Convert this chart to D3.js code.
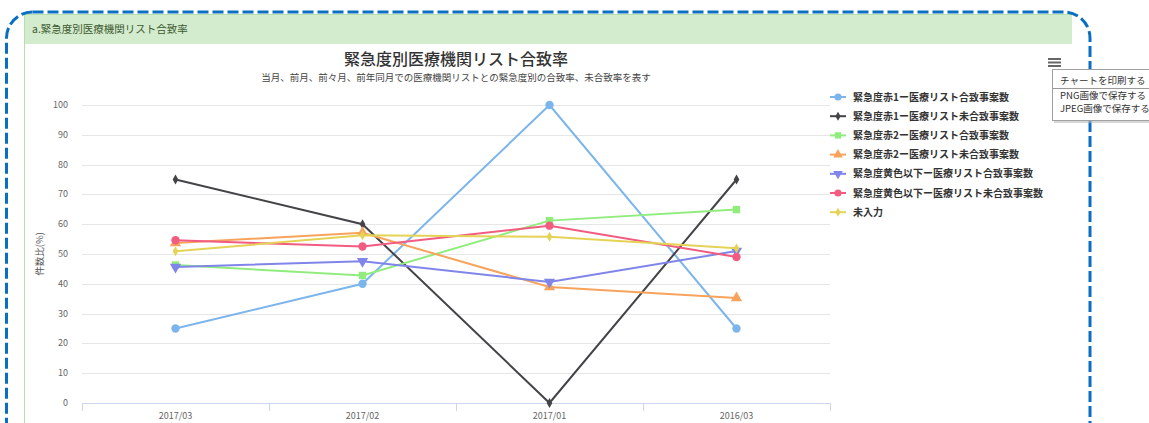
<!DOCTYPE html>
<html>
<head>
<meta charset="utf-8">
<script src="https://cdn.jsdelivr.net/npm/d3@7"></script>
<style>
  body { margin: 0; background: #fff; }
  svg { display: block; font-family: "Noto Sans CJK JP", "Noto Sans", sans-serif; }
</style>
</head>
<body>
<div id="chart"></div>
<script>
var svgWidth = 1149;
var svgHeight = 423;

// Data
var categories = ["2017/03", "2017/02", "2017/01", "2016/03"];
var seriesNames = [
    "緊急度赤1ー医療リスト合致事案数",
    "緊急度赤1ー医療リスト未合致事案数",
    "緊急度赤2ー医療リスト合致事案数",
    "緊急度赤2ー医療リスト未合致事案数",
    "緊急度黄色以下ー医療リスト合致事案数",
    "緊急度黄色以下ー医療リスト未合致事案数",
    "未入力"
];
var red1Match = [25, 40, 100, 25];
var red1Unmatch = [75, 60, 0, 75];
var red2Match = [46.3, 42.8, 61.2, 64.9];
var red2Unmatch = [53.7, 57.1, 38.9, 35.2];
var yellowMatch = [45.6, 47.6, 40.6, 51];
var yellowUnmatch = [54.6, 52.5, 59.5, 49];
var noInput = [50.9, 56.3, 55.8, 51.9];
var yTicks = [0, 10, 20, 30, 40, 50, 60, 70, 80, 90, 100];

var seriesValues = [red1Match, red1Unmatch, red2Match, red2Unmatch, yellowMatch, yellowUnmatch, noInput];
var colors = ["#7cb5ec", "#434348", "#90ed7d", "#f7a35c", "#8085e9", "#f15c80", "#e4d354"];
var symbols = [d3.symbolCircle, d3.symbolDiamond, d3.symbolSquare, d3.symbolTriangle, "down", d3.symbolCircle, d3.symbolDiamond];

var margin = { top: 105, left: 82 };
var width = 748;
var height = 298;

var svg = d3.select("#chart")
    .append("svg")
    .attr("width", svgWidth)
    .attr("height", svgHeight);

// panel header
svg.append("rect")
    .attr("x", 24).attr("y", 14)
    .attr("width", 1048).attr("height", 30)
    .attr("fill", "#d4ecce");
svg.append("line")
    .attr("x1", 24.5).attr("x2", 24.5)
    .attr("y1", 14).attr("y2", 423)
    .attr("stroke", "#b5e0ad");
svg.append("line")
    .attr("x1", 24).attr("x2", 1072)
    .attr("y1", 14.5).attr("y2", 14.5)
    .attr("stroke", "#b5e0ad");
svg.append("text")
    .attr("x", 32).attr("y", 33)
    .attr("font-size", "10.5px")
    .attr("fill", "#3d5a30")
    .text("a.緊急度別医療機関リスト合致率");

// dashed outline
svg.append("rect")
    .attr("x", 6.5).attr("y", 12)
    .attr("width", 1083.5).attr("height", 460)
    .attr("rx", 26)
    .attr("fill", "none")
    .attr("stroke", "#0a6fc2")
    .attr("stroke-width", 3)
    .attr("stroke-dasharray", "11,4");

// titles
svg.append("text")
    .attr("x", 456).attr("y", 65)
    .attr("text-anchor", "middle")
    .attr("font-size", "16px")
    .attr("font-weight", 500)
    .attr("fill", "#333")
    .text("緊急度別医療機関リスト合致率");
svg.append("text")
    .attr("x", 456).attr("y", 81)
    .attr("text-anchor", "middle")
    .attr("font-size", "9.5px")
    .attr("fill", "#444")
    .text("当月、前月、前々月、前年同月での医療機関リストとの緊急度別の合致率、未合致率を表す");

var chartGroup = svg.append("g")
    .attr("transform", `translate(${margin.left}, ${margin.top})`);

var xScale = d3.scaleBand()
    .domain(categories)
    .range([0, width]);

var yScale = d3.scaleLinear()
    .domain([0, 100])
    .range([height, 0]);

// grid
chartGroup.selectAll(".grid")
    .data(yTicks.slice(1))
    .enter()
    .append("line")
    .attr("x1", 0).attr("x2", width)
    .attr("y1", d => Math.round(yScale(d)) + 0.5)
    .attr("y2", d => Math.round(yScale(d)) + 0.5)
    .attr("stroke", "#e6e6e6");

// y labels
chartGroup.selectAll(".ylab")
    .data(yTicks)
    .enter()
    .append("text")
    .attr("x", -14)
    .attr("y", d => yScale(d) + 3)
    .attr("text-anchor", "end")
    .attr("font-size", "9px")
    .attr("fill", "#666")
    .text(d => d);

// x axis
var bottomAxis = d3.axisBottom(xScale).tickSize(0);
var xAxis = chartGroup.append("g")
    .attr("transform", `translate(0, ${height})`)
    .call(bottomAxis);
xAxis.select(".domain").attr("stroke", "#ccd6eb");
xAxis.selectAll("text")
    .attr("dy", "1.4em")
    .attr("font-size", "9px")
    .attr("fill", "#666")
    .attr("font-family", "\"Noto Sans CJK JP\", sans-serif");
var boundaries = categories.map(c => xScale(c)).concat([width]);
chartGroup.selectAll(".xtick")
    .data(boundaries)
    .enter()
    .append("line")
    .attr("x1", d => d + 0.5).attr("x2", d => d + 0.5)
    .attr("y1", height).attr("y2", height + 8)
    .attr("stroke", "#ccd6eb");

// y title
svg.append("text")
    .attr("transform", "translate(43, 254) rotate(-90)")
    .attr("text-anchor", "middle")
    .attr("font-size", "9.5px")
    .attr("fill", "#555")
    .text("件数比(%)");

function symbolPath(sym, size) {
    if (sym === "down") {
        return d3.symbol(d3.symbolTriangle, size)() ;
    }
    return d3.symbol(sym, size)();
}

var line = d3.line()
    .x((d, i) => xScale(categories[i]) + xScale.bandwidth() / 2)
    .y(d => yScale(d));

seriesValues.forEach(function(vals, s) {
    chartGroup.append("path")
        .datum(vals)
        .attr("d", line)
        .attr("fill", "none")
        .attr("stroke", colors[s])
        .attr("stroke-width", 2);
    var sz = symbols[s] === d3.symbolDiamond ? 28 : 55;
    chartGroup.selectAll(".m" + s)
        .data(vals)
        .enter()
        .append("path")
        .attr("d", symbolPath(symbols[s], sz))
        .attr("transform", (d, i) => `translate(${xScale(categories[i]) + xScale.bandwidth() / 2}, ${yScale(d)})` + (symbols[s] === "down" ? " rotate(180)" : ""))
        .attr("fill", colors[s]);
});

// legend
var legend = svg.append("g").attr("transform", "translate(836, 97)");
seriesNames.forEach(function(name, s) {
    var g = legend.append("g").attr("transform", `translate(0, ${s * 19.2})`);
    g.append("line")
        .attr("x1", -6).attr("x2", 10)
        .attr("stroke", colors[s]).attr("stroke-width", 2);
    g.append("path")
        .attr("d", symbolPath(symbols[s], symbols[s] === d3.symbolDiamond ? 24 : 40))
        .attr("transform", "translate(2,0)" + (symbols[s] === "down" ? " rotate(180)" : ""))
        .attr("fill", colors[s]);
    g.append("text")
        .attr("x", 17).attr("y", 3.5)
        .attr("font-size", "10px")
        .attr("font-weight", "bold")
        .attr("fill", "#333")
        .text(name);
});

// export menu icon
[59, 62.5, 66].forEach(function(y) {
    svg.append("line")
        .attr("x1", 1048).attr("x2", 1061)
        .attr("y1", y).attr("y2", y)
        .attr("stroke", "#666").attr("stroke-width", 2);
});

// export menu
var menu = svg.append("g").attr("transform", "translate(1052, 69)");
menu.append("rect")
    .attr("x", 2).attr("y", 2)
    .attr("width", 110).attr("height", 52)
    .attr("fill", "#bbb").attr("opacity", 0.6);
menu.append("rect")
    .attr("x", 0.5).attr("y", 0.5)
    .attr("width", 110).attr("height", 51)
    .attr("fill", "#fff").attr("stroke", "#a0a0a0");
menu.append("line")
    .attr("x1", 1).attr("x2", 110)
    .attr("y1", 19.5).attr("y2", 19.5)
    .attr("stroke", "#999");
var menuItems = ["チャートを印刷する", "PNG画像で保存する", "JPEG画像で保存する"];
menu.selectAll(".item")
    .data(menuItems)
    .enter()
    .append("text")
    .attr("x", 8)
    .attr("y", (d, i) => 15 + i * 13.5 + (i > 0 ? 1 : 0))
    .attr("font-size", "9.5px")
    .attr("fill", "#333")
    .text(d => d);
</script>
</body>
</html>
